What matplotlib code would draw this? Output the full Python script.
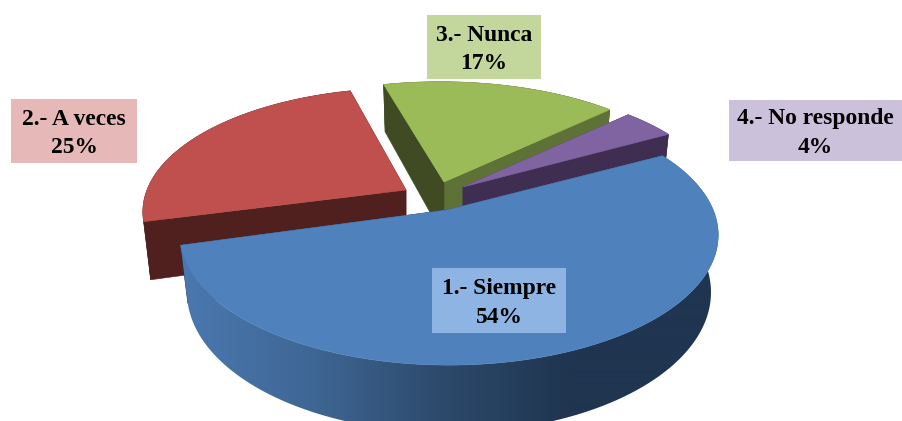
import numpy as np
import matplotlib
matplotlib.use("Agg")
import matplotlib.pyplot as plt
from matplotlib.colors import LinearSegmentedColormap
from matplotlib.patches import Polygon, Rectangle

labels = ["1.- Siempre", "2.- A veces", "3.- Nunca", "4.- No responde"]
values = [54, 25, 17, 4]

top_colors = ["#4F81BD", "#C0504D", "#9BBB59", "#8064A2"]
left_wall = ["#1F3550", "#4F201E", "#404B23", "#3F2D52"]
right_wall = ["#1F3550", "#4F201E", "#5E7136", "#3F2D52"]
box_colors = ["#8EB4E3", "#E6B9B8", "#C3D69B", "#CCC1DA"]
tips = [(447, 210), (406, 190), (444, 182), (463, 187)]
rim_shift = [(2, 2), (0, 0), (-4, 0), (0, 0)]
radii = [(265, 126), (259, 120), (262, 118), (255, 118)]
boxes = [(432, 268, 134, 65), (11, 99, 126, 64), (427, 15, 114, 64), (729, 100, 173, 61)]

START = 29.0
K, DEPTH, SHRINK = 0.177, 55.5, 0.973
side_cmap = LinearSegmentedColormap.from_list(
    "side", ["#4A78B0", "#3F6795", "#2D4A6C", "#1F3550", "#1F3550"])

fig = plt.figure(figsize=(9.02, 4.21), dpi=100)
ax = fig.add_axes([0, 0, 1, 1])
ax.set_xlim(0, 902)
ax.set_ylim(421, 0)
ax.axis("off")

edges = START - np.cumsum([0] + values) * 3.6
base_z = {1: 2.0, 2: 3.0, 3: 4.0, 0: 5.0}
for i in [1, 2, 3, 0]:
    tip = tips[i]
    cx, cy = tip[0] + rim_shift[i][0], tip[1] + rim_shift[i][1]
    R, B = radii[i]
    z = base_z[i]
    th = np.radians(np.linspace(edges[i], edges[i + 1], 300))
    w = 1 + K * np.sin(th)
    sx = cx + R * np.cos(th) / w
    sy = cy - B * np.sin(th) / w
    bx = cx + (sx - cx) * SHRINK
    by = sy + DEPTH / w
    tb = (tip[0], tip[1] + DEPTH)
    rim = np.r_[np.c_[sx, sy], np.c_[bx, by][::-1]]
    if i != 0:
        ax.add_patch(Polygon(rim, fc=left_wall[i], ec=left_wall[i], lw=0.4, zorder=z))
    # radial walls: the arc begins on the slice's left side (clockwise)
    ax.add_patch(Polygon([tip, (sx[-1], sy[-1]), (bx[-1], by[-1]), tb],
                         fc=right_wall[i], ec=right_wall[i], lw=0.4, zorder=z + 0.05))
    ax.add_patch(Polygon([tip, (sx[0], sy[0]), (bx[0], by[0]), tb],
                         fc=left_wall[i], ec=left_wall[i], lw=0.4, zorder=z + 0.06))
    if i == 0:
        patch = Polygon(rim, fc="none", ec="none", zorder=z + 0.1)
        ax.add_patch(patch)
        grad = np.clip((np.linspace(0, 902, 902) - 180) / 520, 0, 1)[None, :]
        im = ax.imshow(grad, cmap=side_cmap, extent=(0, 902, 421, 0), aspect="auto",
                       vmin=0, vmax=1, zorder=z + 0.1, interpolation="bilinear")
        im.set_clip_path(patch)
    ax.add_patch(Polygon([tip] + list(zip(sx, sy)), fc=top_colors[i], ec=top_colors[i], lw=0.4,
                         zorder=z + 0.2))

ax.set_xlim(0, 902)
ax.set_ylim(421, 0)

for i, (x, y, bw, bh) in enumerate(boxes):
    ax.add_patch(Rectangle((x, y), bw, bh, fc=box_colors[i], ec="none", zorder=10))
    ax.text(x + bw / 2, y + bh / 2 + 2.5, f"{labels[i]}\n{values[i]}%", ha="center", va="center",
            family="Liberation Serif", weight="bold", fontsize=16.9, linespacing=1.48,
            color="black", zorder=11)

fig.savefig("out.png", dpi=100)
